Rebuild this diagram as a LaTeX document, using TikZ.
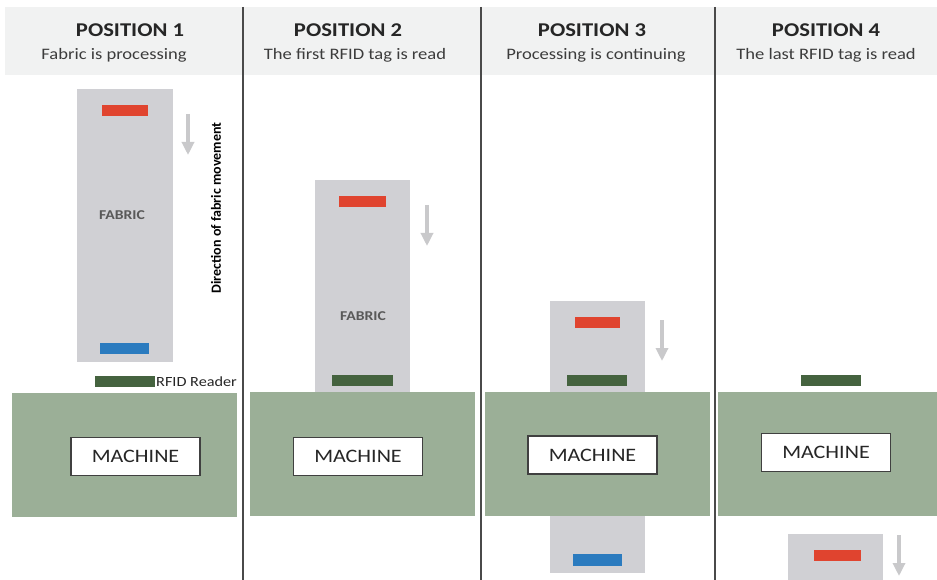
\documentclass[tikz,border=0pt]{standalone}
\usepackage{fontspec}
\setmainfont{Carlito}[FakeStretch=1.16]
\newfontfamily\rotfont{Carlito}
\usetikzlibrary{arrows.meta}
\definecolor{hdr}{HTML}{F1F2F2}
\definecolor{fabricc}{HTML}{D0D0D4}
\definecolor{machc}{HTML}{9BAF97}
\definecolor{readerc}{HTML}{45633F}
\definecolor{redtag}{HTML}{E0442F}
\definecolor{bluetag}{HTML}{2B7BBF}
\definecolor{arrc}{HTML}{C9C9CB}
\definecolor{divc}{HTML}{4A4A4A}
\definecolor{txtc}{HTML}{262626}
\tikzset{
  titletxt/.style={font=\bfseries\fontsize{19.5}{20}\selectfont, text=txtc, inner sep=0pt},
  subtxt/.style={font=\fontsize{16}{17}\selectfont, text=txtc!90, inner sep=0pt},
  fabtxt/.style={font=\bfseries\fontsize{13.5}{14}\selectfont, text=black!65, inner sep=0pt},
  machbox/.style={draw=black!75, line width=1.2pt, fill=white, minimum width=129pt, minimum height=38pt, inner sep=0pt, font=\fontsize{19}{20}\selectfont, text=black!85},
  movearrow/.style={draw=arrc, line width=3.2pt, -{Triangle[width=12pt,length=13pt]}},
  divider/.style={draw=divc, line width=2pt},
}
\begin{document}
\begin{tikzpicture}[x=1pt,y=-1pt]
\useasboundingbox (0,0) rectangle (937,580);
\fill[white] (0,0) rectangle (937,580);
% header band
\fill[hdr] (5,7) rectangle (937,75);
\node[titletxt] (t1) at (130,30) {POSITION 1};
\node[subtxt] (s1) at (114,55) {Fabric is processing};
\node[titletxt] (t2) at (348,30) {POSITION 2};
\node[subtxt] (s2) at (355,55) {The first RFID tag is read};
\node[titletxt] (t3) at (592,30) {POSITION 3};
\node[subtxt] (s3) at (596,55) {Processing is continuing};
\node[titletxt] (t4) at (826,30) {POSITION 4};
\node[subtxt] (s4) at (826,55) {The last RFID tag is read};

% ---------- Position 1
\fill[fabricc] (77,89) rectangle (173,362);
\fill[redtag] (102,105) rectangle (148,116);
\fill[bluetag] (100,343) rectangle (149,354);
\node[fabtxt] (f1) at (122,215) {FABRIC};
\coordinate (a1s) at (188,114);
\coordinate (a1e) at (188,155);
\draw[movearrow] (a1s) -- (a1e);
\node[rotate=90, font=\rotfont\bfseries\fontsize{14}{14}\selectfont, text=black, inner sep=0pt] (dir) at (216,208) {Direction of fabric movement};
\fill[machc] (12,393) rectangle (237,517);
\fill[readerc] (95,376) rectangle (155,387);
\node[anchor=west, font=\fontsize{14}{14}\selectfont, text=txtc, inner sep=0pt] (rr) at (156,381.5) {RFID Reader};
\node[machbox] (m1) at (135.5,456.5) {MACHINE};

% ---------- Position 2
\fill[fabricc] (315,180) rectangle (410,392);
\fill[redtag] (339,196) rectangle (386,207);
\node[fabtxt] (f2) at (363,316) {FABRIC};
\coordinate (a2s) at (427,205);
\coordinate (a2e) at (427,246);
\draw[movearrow] (a2s) -- (a2e);
\fill[machc] (250,392) rectangle (475,516);
\fill[readerc] (332,375) rectangle (393,386);
\node[machbox] (m2) at (358,456.5) {MACHINE};

% ---------- Position 3
\fill[fabricc] (550,301) rectangle (645,392);
\fill[fabricc] (550,516) rectangle (645,573);
\fill[redtag] (575,317) rectangle (620,328);
\fill[bluetag] (573,554) rectangle (622,566);
\coordinate (a3s) at (662,320);
\coordinate (a3e) at (662,361);
\draw[movearrow] (a3s) -- (a3e);
\fill[machc] (485,392) rectangle (710,516);
\fill[readerc] (567,375) rectangle (627,386);
\node[machbox] (m3) at (592.5,455) {MACHINE};

% ---------- Position 4
\fill[fabricc] (788,534) rectangle (883,580);
\fill[redtag] (814,550) rectangle (861,561);
\coordinate (a4s) at (899,535);
\coordinate (a4e) at (899,576);
\draw[movearrow] (a4s) -- (a4e);
\fill[machc] (718,392) rectangle (937,516);
\fill[readerc] (801,375) rectangle (861,386);
\node[machbox] (m4) at (826,452.5) {MACHINE};

% dividers
\coordinate (d1t) at (243,7);  \coordinate (d1b) at (243,580);
\coordinate (d2t) at (481,7);  \coordinate (d2b) at (481,580);
\coordinate (d3t) at (714.5,7);\coordinate (d3b) at (714.5,580);
\draw[divider] (d1t) -- (d1b);
\draw[divider] (d2t) -- (d2b);
\draw[divider] (d3t) -- (d3b);
\end{tikzpicture}
\end{document}
